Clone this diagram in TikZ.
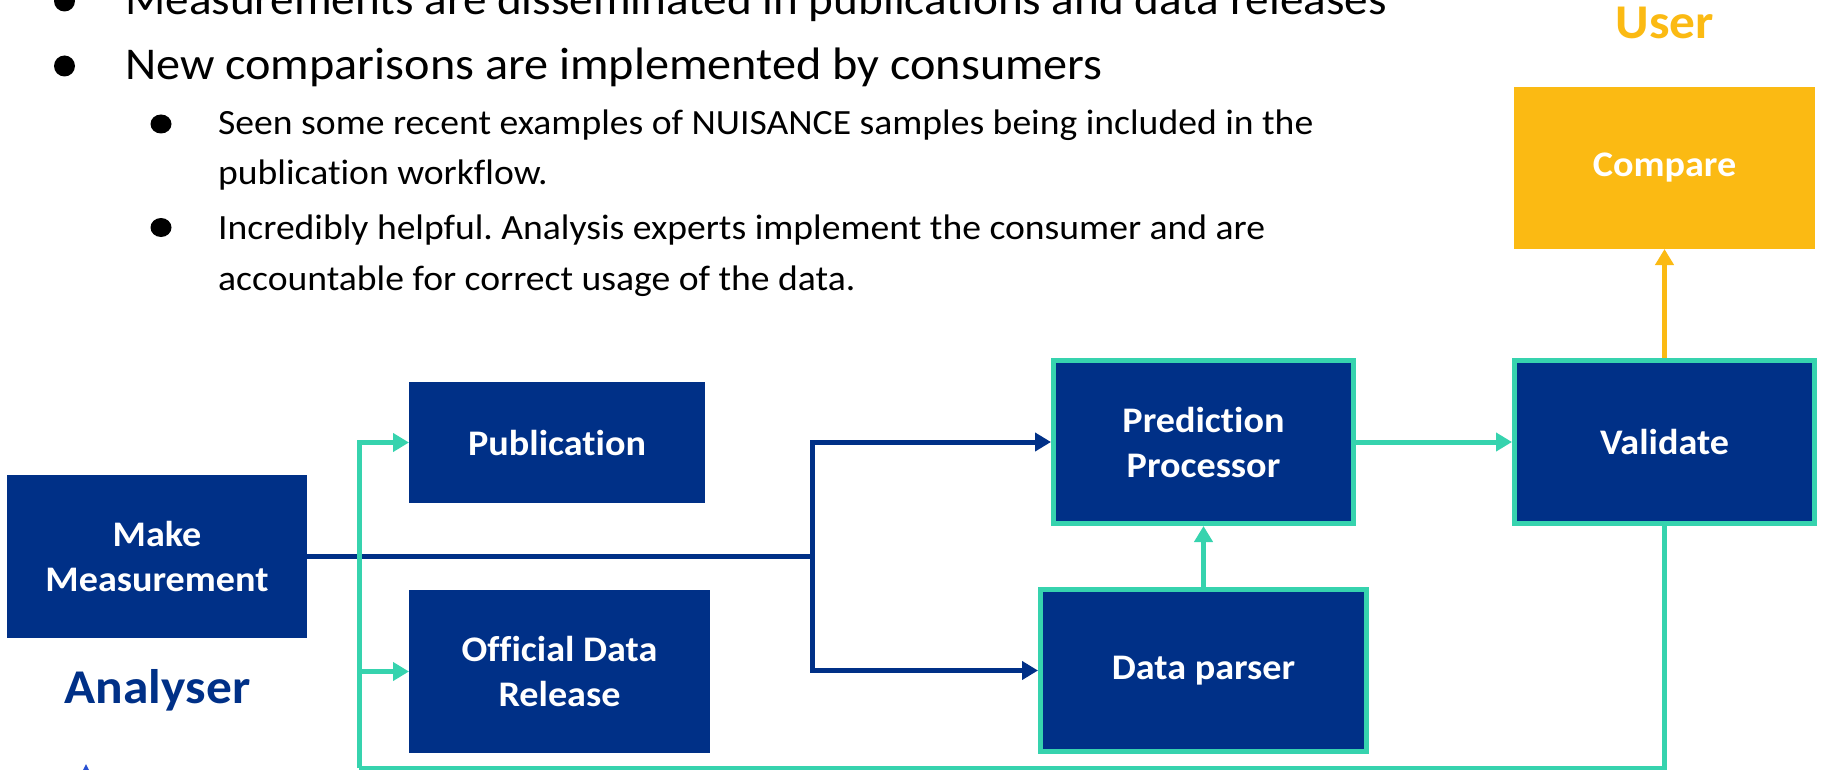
\documentclass[tikz,border=0pt]{standalone}
\usepackage{fontspec}
\setmainfont{Carlito}[FakeStretch=1.06, Ligatures=NoCommon]
\usetikzlibrary{arrows.meta}
\definecolor{nblue}{RGB}{0,48,135}
\definecolor{nteal}{RGB}{54,211,174}
\definecolor{norange}{RGB}{251,186,19}
\definecolor{tipblue}{RGB}{40,80,210}
\frenchspacing
\tikzset{
  box/.style={fill=nblue, text=white, font=\fontsize{36}{45}\selectfont\bfseries,
    align=center, inner sep=0pt, outer sep=0pt},
  tbox/.style={box, draw=nteal, line width=5pt, outer sep=2.5pt},
  obox/.style={box, fill=norange},
  mainline/.style={anchor=base west, inner sep=0pt, font=\fontsize{45.5}{55}\selectfont},
  subline/.style={anchor=base west, inner sep=0pt, font=\fontsize{35.5}{42}\selectfont},
  role/.style={anchor=base, inner sep=0pt, font=\fontsize{48.5}{56}\selectfont\bfseries},
  bluearrow/.style={draw=nblue, line width=5pt, -{Triangle[length=16pt,width=18pt]}},
  tealarrow/.style={draw=nteal, line width=5pt, -{Triangle[length=16pt,width=18pt]}},
  tealline/.style={draw=nteal, line width=5pt},
  orangearrow/.style={draw=norange, line width=5pt, -{Triangle[length=16pt,width=18pt]}},
}
\begin{document}
\begin{tikzpicture}[x=1pt,y=-1pt]
\useasboundingbox (0,0) rectangle (1827,770);
% bullets text
\fill (64.5,1) circle [radius=10.5];
\node[mainline, font=\fontsize{44.5}{55}\selectfont] (l1) at (125,15) {Measurements are disseminated in publications and data releases};
\fill (64.5,66) circle [radius=10.5];
\node[mainline] (l2) at (125,80) {New comparisons are implemented by consumers};
\fill (161,124) ellipse [x radius=10.5, y radius=9.5];
\node[subline] (s1a) at (218,135) {Seen some recent examples of NUISANCE samples being included in the};
\node[subline] (s1b) at (218,185) {publication workflow.};
\fill (161,227.5) ellipse [x radius=10.5, y radius=9.5];
\node[subline] (s2a) at (218,239) {Incredibly helpful. Analysis experts implement the consumer and are};
\node[subline] (s2b) at (218,290) {accountable for correct usage of the data.};
% role labels
\node[role, text=norange] (user) at (1665,39) {User};
\node[role, text=nblue] (analyser) at (157.5,703) {Analyser};
% boxes
\node[box, minimum width=300pt, minimum height=163pt] (mm) at (157,556.5) {Make\\Measurement};
\node[box, minimum width=296pt, minimum height=121pt] (pub) at (557,442.5) {Publication};
\node[box, minimum width=301pt, minimum height=163pt] (odr) at (559.5,671.5) {Official Data\\Release};
\node[tbox, minimum width=300pt, minimum height=163pt] (pp) at (1203.5,442) {Prediction\\Processor};
\node[tbox, minimum width=300pt, minimum height=163pt] (val) at (1664.5,442) {Validate};
\node[tbox, minimum width=326pt, minimum height=162pt] (dp) at (1203.5,670.5) {Data parser};
\node[obox, minimum width=301pt, minimum height=162pt] (cmp) at (1664.5,168) {Compare};
% connectors
\coordinate (bj) at (812,556.5);
\draw[draw=nblue, line width=5pt] (mm.east) -- (bj);
\draw[bluearrow] (bj) |- (pp.west);
\draw[bluearrow] (bj) |- (dp.west);
\coordinate (tl) at (359,768);
\draw[tealline] (val.south) |- (tl);
\draw[tealarrow] (tl) |- (pub.west);
\draw[tealarrow] (tl) |- (odr.west);
\draw[tealarrow] (pp.east) -- (val.west);
\draw[tealarrow] (dp.north) -- (pp.south);
\draw[orangearrow] (val.north) -- (cmp.south);
% small cut-off fragment at the bottom edge
\fill[tipblue] (83,770) -- (86,764) -- (89,770) -- cycle;
\end{tikzpicture}
\end{document}
